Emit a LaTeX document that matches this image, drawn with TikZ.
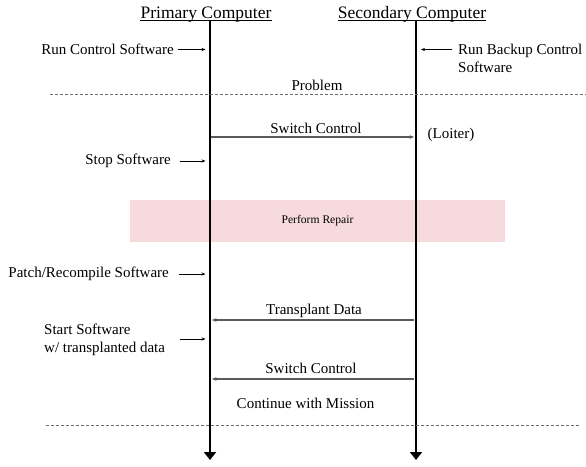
\documentclass[tikz,border=0pt]{standalone}
\usepackage{fontspec}
\setmainfont{Liberation Serif}
\usetikzlibrary{arrows.meta}
\definecolor{repairpink}{RGB}{246,218,220}
\definecolor{msggray}{RGB}{90,90,90}
\definecolor{sepgray}{RGB}{110,110,110}
\begin{document}
\begin{tikzpicture}[x=1pt,y=-1pt,
  lbl/.style={font=\fontsize{15}{17.7}\selectfont, inner sep=0pt},
  hdr/.style={font=\fontsize{17.5}{20}\selectfont, inner sep=0pt},
  small/.style={font=\fontsize{11.6}{14}\selectfont, inner sep=0pt},
  life/.style={line width=2.2pt, -{Triangle[width=12pt,length=8pt]}},
  act/.style={line width=0.9pt, -{Stealth[length=4pt,width=3.2pt]}},
  msg/.style={line width=1.1pt, draw=msggray, -{Stealth[length=4.5pt,width=3.8pt]}},
  sep/.style={dash pattern=on 3pt off 2pt, line width=0.8pt, draw=sepgray}]
\useasboundingbox (0,0) rectangle (586,466);

% repair band
\node[small, fill=repairpink, minimum width=375pt, minimum height=42pt] (repair) at (317.5,221) {Perform Repair};

% headers
\node[hdr, anchor=base] (prim) at (206,18.5) {Primary Computer};
\node[hdr, anchor=base] (sec) at (412,18.5) {Secondary Computer};
\draw[line width=1.3pt] ([yshift=-1.8pt]prim.base west) -- ([yshift=-1.8pt]prim.base east);
\draw[line width=1.3pt] ([yshift=-1.8pt]sec.base west) -- ([yshift=-1.8pt]sec.base east);

% lifelines
\coordinate (p0) at (210,20.5);
\coordinate (p1) at (210,460);
\coordinate (s0) at (416,20.5);
\coordinate (s1) at (416,460);
\draw[life] (p0) -- (p1);
\draw[life] (s0) -- (s1);

% separators
\node[lbl] (problem) at (317,85) {Problem};
\coordinate (d1a) at (50,94.5);
\coordinate (d1b) at (586,94.5);
\draw[sep] (d1a) -- (d1b);
\coordinate (d2a) at (45.6,425.5);
\coordinate (d2b) at (580,425.5);
\draw[sep] (d2a) -- (d2b);

% primary-side actions
\node[lbl, anchor=east] (rcs) at (174,49.5) {Run Control Software};
\draw[act] ([xshift=4pt]rcs.east) -- ([xshift=-4.5pt]rcs.east -| p0);

\node[lbl, anchor=east] (stop) at (171,161) {Stop Software};
\draw[act] ([xshift=9pt]stop.east) -- ([xshift=-4.5pt]stop.east -| p0);

\node[lbl, anchor=east] (patch) at (169,274) {Patch/Recompile Software};
\draw[act] ([xshift=9.6pt]patch.east) -- ([xshift=-4.5pt]patch.east -| p0);

\node[lbl, anchor=west, align=left] (start) at (44,339.5) {Start Software\\w/ transplanted data};
\coordinate (startA) at (180,339);
\draw[act] (startA) -- ([xshift=-4.5pt]startA -| p0);

% secondary-side actions
\node[lbl, anchor=west, align=left] (rbc) at (458,58.5) {Run Backup Control\\Software};
\coordinate (rbcA) at (452,49.5);
\draw[act] (rbcA) -- ([xshift=5pt]rbcA -| s0);

\node[lbl] (loiter) at (451,135) {(Loiter)};

% messages
\node[lbl] (sw1) at (316,128) {Switch Control};
\coordinate (m1) at (316,137);
\draw[msg] ([xshift=1pt]m1 -| p0) -- ([xshift=-2pt]m1 -| s0);

\node[lbl] (td) at (314,310.5) {Transplant Data};
\coordinate (m2) at (314,320);
\draw[msg] ([xshift=-2pt]m2 -| s0) -- ([xshift=2pt]m2 -| p0);

\node[lbl] (sw2) at (311,368) {Switch Control};
\coordinate (m3) at (311,379);
\draw[msg] ([xshift=-2pt]m3 -| s0) -- ([xshift=2pt]m3 -| p0);

\node[lbl] (cont) at (305.5,403) {Continue with Mission};
\end{tikzpicture}
\end{document}
